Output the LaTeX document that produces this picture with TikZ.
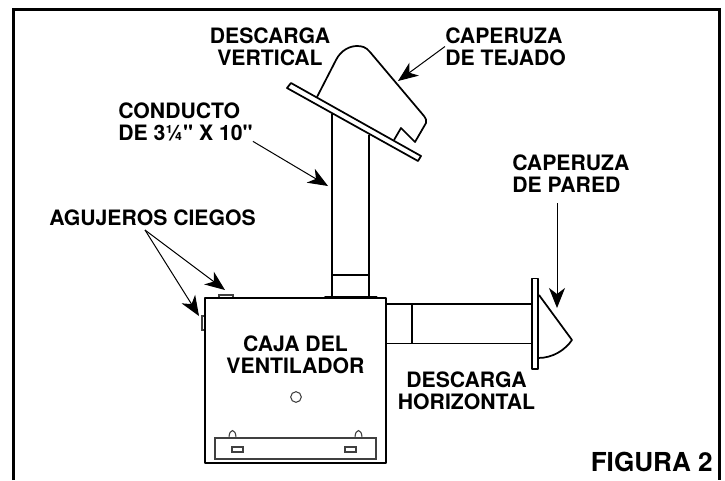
\documentclass[tikz,border=0pt]{standalone}
\usepackage{fontspec}
\newfontfamily\lblfont{TeX Gyre Heros}
\usetikzlibrary{arrows.meta}
\tikzset{
	part/.style = {line width=1.3pt, line join=round},
	fine/.style = {line width=.8pt, draw=black!75},
	lbl/.style = {inner sep=0, align=center, font=\lblfont\fontsize{15.9}{16.2}\selectfont\bfseries},
	callout/.style = {line width=.75pt, -{Stealth[length=15pt, width=12pt, inset=4.5pt]}}
}

\begin{document}
\begin{tikzpicture}[x=.75pt, y=-.75pt]
	\useasboundingbox (0, 0) rectangle (725, 480);
	\draw [line width=2.1pt] (13.5, 480) -- (13.5, 9.5) -- (719.5, 9.5) -- (719.5, 480);

	% roof hood and plate
	\draw [part] (317, 97) -- (336, 60) .. controls (341, 50) and (350, 46) .. (357, 46)
		.. controls (362, 46) and (366, 47) .. (370, 52) -- (424, 116)
		.. controls (426, 119) and (427, 121) .. (426, 123)
		-- (415, 142) -- (401, 128) -- (394, 140);
	\draw [part, fill=white] (287, 88) -- (291, 83) -- (421, 156) -- (418, 161) -- cycle;

	% vertical duct
	\draw [part] (332, 114) -- (332, 298);
	\draw [part] (369, 135) -- (369, 298);
	\draw [part] (332, 275) -- (369, 275);
	\fill (323, 298) -- (325, 296) -- (377, 296) -- (378, 298) -- cycle;

	% fan box
	\draw [fine] (219, 298) rectangle (233, 295);
	\draw [fine] (205, 316) rectangle (202, 330);
	\draw [part] (205, 298) rectangle (386, 463);
	\draw [fine] (296, 397) circle (5.3);
	\draw [fine] (215, 438) rectangle (376, 459);
	\draw [fine] (232, 447) rectangle (243, 452);
	\draw [fine] (345, 447) rectangle (356, 452);
	\draw [fine] (229, 438) .. controls (229, 428) and (236, 428) .. (236, 438);
	\draw [fine] (355, 438) .. controls (355, 428) and (362, 428) .. (362, 438);

	% horizontal duct and wall hood
	\draw [part] (386, 304) -- (532, 304);
	\draw [part] (386, 343.5) -- (532, 343.5);
	\draw [part] (412, 304) -- (412, 343.5);
	\draw [part] (532, 278.5) rectangle (538, 369);
	\draw [part] (539, 295) -- (572, 340) .. controls (565, 350) and (553, 358) .. (538, 358);

	\coordinate (roofHood) at (398, 81);
	\coordinate (ductSide) at (328, 186);
	\coordinate (knockStart) at (145, 230);
	\coordinate (knockTop) at (225, 290);
	\coordinate (knockLeft) at (199, 316);
	\coordinate (wallStart) at (557, 203);
	\coordinate (wallHood) at (557, 308);

	\node [lbl] (vertical) at (270, 46.5) {DESCARGA\\VERTICAL};
	\node [lbl, align=left, anchor=west] (roofLabel) at (445, 46.5) {CAPERUZA\\DE TEJADO};
	\node [lbl, align=left, anchor=north west] (ductLabel) at (118, 103) {CONDUCTO\\DE 3¼" X 10"};
	\node [lbl] (knockLabel) at (152.5, 218) {AGUJEROS CIEGOS};
	\node [lbl, align=left, anchor=north west] (wallLabel) at (512, 155) {CAPERUZA\\DE PARED};
	\node [lbl] (boxLabel) at (295.5, 355) {CAJA DEL\\VENTILADOR};
	\node [lbl] (horizontal) at (466.5, 390.5) {DESCARGA\\HORIZONTAL};
	\node [lbl, font=\lblfont\fontsize{19.6}{19}\selectfont\bfseries, anchor=south east] (figLabel) at (713, 472) {FIGURA 2};

	\draw [callout] (roofLabel.west) -- (roofHood);
	\draw [callout] (ductLabel.south east) -- (ductSide);
	\draw [callout] (knockStart) -- (knockTop);
	\draw [callout] (knockStart) -- (knockLeft);
	\draw [callout] (wallStart) -- (wallHood);
\end{tikzpicture}
\end{document}
